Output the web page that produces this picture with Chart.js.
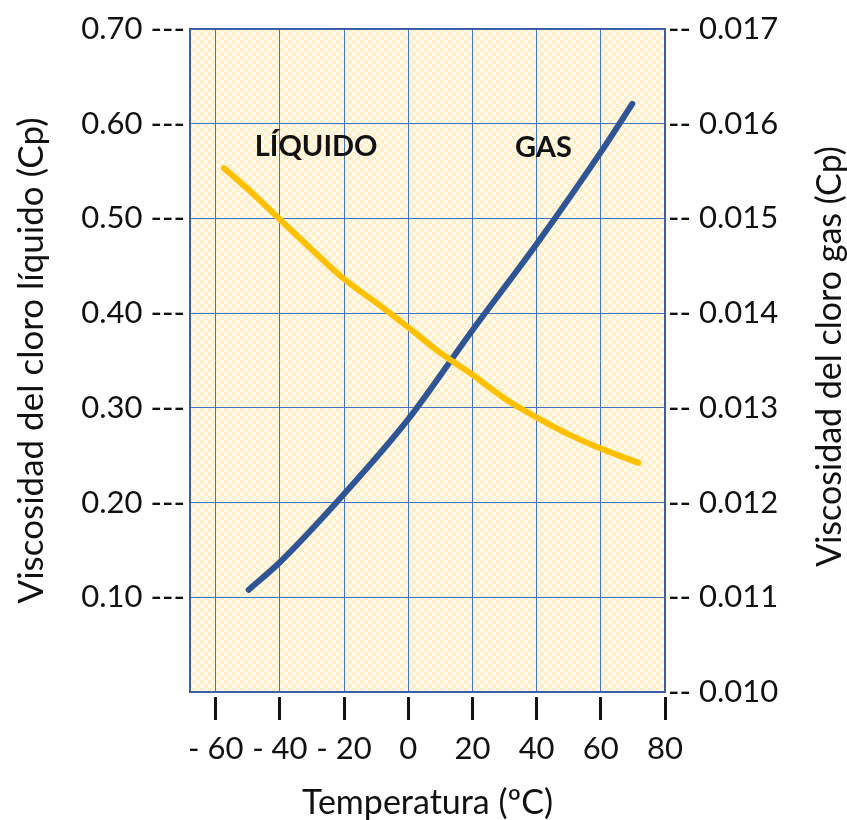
<!DOCTYPE html>
<html>
<head>
<meta charset="utf-8">
<script src="https://cdn.jsdelivr.net/npm/chart.js@4"></script>
<style>
    body { margin: 0; background: #fff; }
    #wrap { width: 847px; height: 820px; }
</style>
</head>
<body>
<div id="wrap"><canvas id="graph"></canvas></div>
<script>
// valores
const liquidTemp = [-57.4, -50, -40, -30, -20, -10, 0, 10, 20, 30, 40, 50, 60, 71.7]
const liquidVisc = [0.553, 0.531, 0.499, 0.467, 0.436, 0.411, 0.385, 0.358, 0.335, 0.310, 0.290, 0.272, 0.257, 0.242]

const gasTemp = [-49.7, -40, -20, 0, 20, 40, 60, 69.8]
const gasVisc = [0.01108, 0.01137, 0.01209, 0.01288, 0.01382, 0.01473, 0.01570, 0.01621]

const xTicks = [-60, -40, -20, 0, 20, 40, 60, 80]
const yLeftTicks = [0.1, 0.2, 0.3, 0.4, 0.5, 0.6, 0.7]
const yRightTicks = [0.010, 0.011, 0.012, 0.013, 0.014, 0.015, 0.016, 0.017]

const noteText = ['LÍQUIDO', 'GAS']
const noteX = [-28.7, 42.1]
const noteY = [0.576, 0.575]

const FONT = 'Lato, "Open Sans", sans-serif'
const GRID = '#4472C4'

const bgPlugin = {
    id: 'bg',
    beforeDraw(chart) {
        const {ctx, chartArea: a} = chart
        const tile = document.createElement('canvas')
        tile.width = 8
        tile.height = 8
        const t = tile.getContext('2d')
        t.fillStyle = '#FFFAEC'
        t.fillRect(0, 0, 8, 8)
        t.fillStyle = '#FFEFC8'
        t.fillRect(0, 0, 4, 4)
        t.fillRect(4, 4, 4, 4)
        ctx.save()
        ctx.fillStyle = ctx.createPattern(tile, 'repeat')
        ctx.fillRect(a.left, a.top, a.right - a.left, a.bottom - a.top)
        ctx.restore()
    }
}

const overlayPlugin = {
    id: 'overlay',
    afterDraw(chart) {
        const {ctx, chartArea: a, scales} = chart
        ctx.save()
        ctx.strokeStyle = '#3B5EA6'
        ctx.lineWidth = 2
        ctx.strokeRect(a.left, a.top, a.right - a.left, a.bottom - a.top)

        ctx.fillStyle = '#111'
        ctx.textAlign = 'center'
        ctx.textBaseline = 'middle'
        ctx.font = 'bold 29px ' + FONT
        noteText.forEach((txt, i) => {
            ctx.fillText(txt, scales.x.getPixelForValue(noteX[i]), scales.yL.getPixelForValue(noteY[i]))
        })

        // título del eje derecho (se lee de abajo hacia arriba)
        ctx.font = '34px ' + FONT
        ctx.translate(830, (a.top + a.bottom) / 2 - 4)
        ctx.rotate(-Math.PI / 2)
        ctx.fillText('Viscosidad del cloro gas (Cp)', 0, 0)
        ctx.restore()
    }
}

let ctx = document.getElementById('graph').getContext('2d')
new Chart(ctx, {
    type: 'line',
    data: {
        datasets: [{
            label: 'Líquido',
            data: liquidTemp.map((t, i) => ({x: t, y: liquidVisc[i]})),
            yAxisID: 'yL',
            borderColor: '#FFC000',
            borderWidth: 6,
            borderCapStyle: 'round',
            pointRadius: 0,
            cubicInterpolationMode: 'monotone'
        }, {
            label: 'Gas',
            data: gasTemp.map((t, i) => ({x: t, y: gasVisc[i]})),
            yAxisID: 'yR',
            borderColor: '#2F5597',
            borderWidth: 6,
            borderCapStyle: 'round',
            pointRadius: 0,
            cubicInterpolationMode: 'monotone'
        }]
    },
    options: {
        responsive: true,
        maintainAspectRatio: false,
        animation: false,
        layout: { padding: { top: 29, left: 0, right: 0, bottom: 0 } },
        plugins: { legend: { display: false }, tooltip: { enabled: false } },
        scales: {
            x: {
                type: 'linear',
                min: -68,
                max: 80,
                afterBuildTicks: s => { s.ticks = xTicks.map(v => ({value: v})) },
                afterFit: s => { s.height = 128 },
                border: { display: false },
                grid: {
                    color: GRID,
                    lineWidth: 1,
                    tickColor: '#111',
                    tickWidth: 3,
                    tickLength: 28,
                    tickBorderDash: [0, 5, 23, 100]
                },
                ticks: {
                    autoSkip: false,
                    maxRotation: 0,
                    color: '#111',
                    padding: 10,
                    font: { family: FONT, size: 31 },
                    callback: v => v < 0 ? '- ' + (-v) : '' + v
                },
                title: {
                    display: true,
                    text: 'Temperatura (ºC)',
                    color: '#111',
                    font: { family: FONT, size: 34, lineHeight: 1 },
                    padding: { top: 0, bottom: 0 }
                }
            },
            yL: {
                type: 'linear',
                position: 'left',
                min: 0,
                max: 0.7,
                afterBuildTicks: s => { s.ticks = yLeftTicks.map(v => ({value: v})) },
                afterFit: s => { s.width = 190 },
                border: { display: false },
                grid: { color: GRID, lineWidth: 1, drawTicks: false },
                ticks: {
                    color: '#111',
                    padding: 5,
                    font: { family: FONT, size: 31 },
                    callback: v => v.toFixed(2) + ' ---'
                },
                title: {
                    display: true,
                    text: 'Viscosidad del cloro líquido (Cp)',
                    color: '#111',
                    font: { family: FONT, size: 35, lineHeight: 1.2 },
                    padding: { top: 11, bottom: 0 }
                }
            },
            yR: {
                type: 'linear',
                position: 'right',
                min: 0.010,
                max: 0.017,
                afterBuildTicks: s => { s.ticks = yRightTicks.map(v => ({value: v})) },
                afterFit: s => { s.width = 182 },
                border: { display: false },
                grid: { display: false, drawTicks: false },
                ticks: {
                    color: '#111',
                    padding: 3,
                    font: { family: FONT, size: 31 },
                    callback: v => '-- ' + v.toFixed(3)
                }
            }
        }
    },
    plugins: [bgPlugin, overlayPlugin]
});
</script>
</body>
</html>
